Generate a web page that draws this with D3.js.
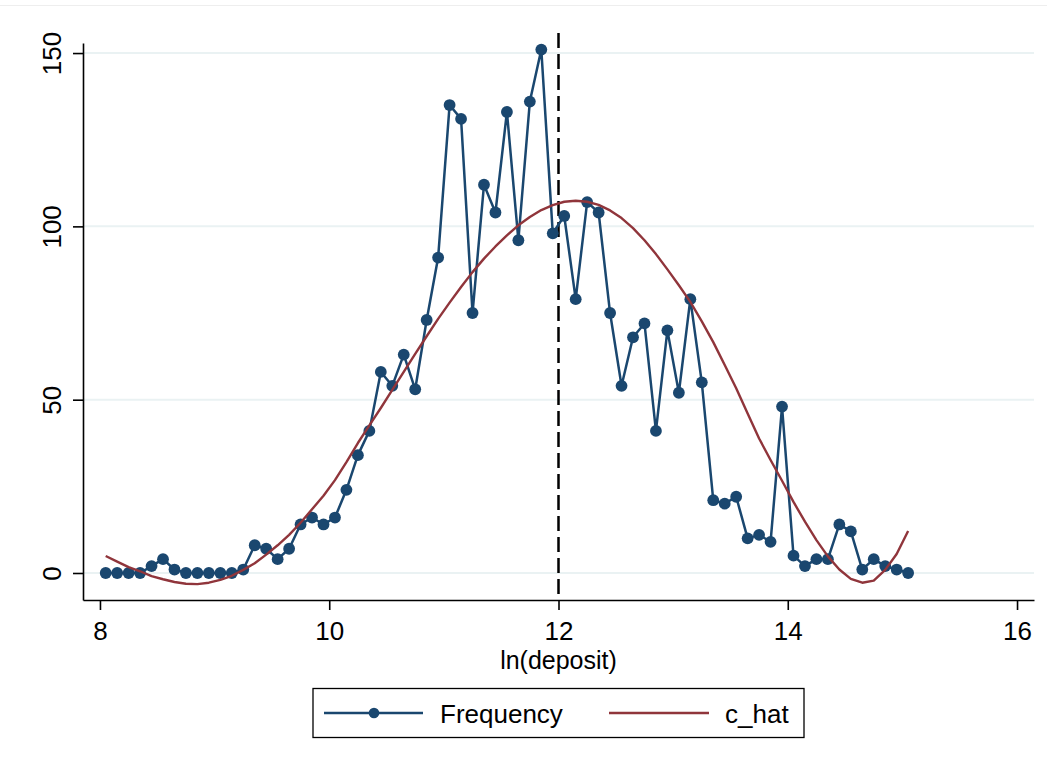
<!DOCTYPE html>
<html>
<head>
<meta charset="utf-8">
<script src="https://cdn.jsdelivr.net/npm/d3@7/dist/d3.min.js"></script>
<style>
  html, body { margin: 0; padding: 0; background: #fff; }
  svg { display: block; font-family: "Liberation Sans", Arial, Helvetica, sans-serif; }
</style>
</head>
<body>
<svg id="chart" width="1047" height="767"></svg>
<script>
// ln(deposit) bin midpoints
const lnDeposit = [
  8.05, 8.15, 8.25, 8.35, 8.45, 8.55, 8.65, 8.75, 8.85, 8.95,
  9.05, 9.15, 9.25, 9.35, 9.45, 9.55, 9.65, 9.75, 9.85, 9.95,
  10.05, 10.15, 10.25, 10.35, 10.45, 10.55, 10.65, 10.75, 10.85, 10.95,
  11.05, 11.15, 11.25, 11.35, 11.45, 11.55, 11.65, 11.75, 11.85, 11.95,
  12.05, 12.15, 12.25, 12.35, 12.45, 12.55, 12.65, 12.75, 12.85, 12.95,
  13.05, 13.15, 13.25, 13.35, 13.45, 13.55, 13.65, 13.75, 13.85, 13.95,
  14.05, 14.15, 14.25, 14.35, 14.45, 14.55, 14.65, 14.75, 14.85, 14.95,
  15.05
];

// Observed count per bin
const frequency = [
  0, 0, 0, 0, 2, 4, 1, 0, 0, 0,
  0, 0, 1, 8, 7, 4, 7, 14, 16, 14,
  16, 24, 34, 41, 58, 54, 63, 53, 73, 91,
  135, 131, 75, 112, 104, 133, 96, 136, 151, 98,
  103, 79, 107, 104, 75, 54, 68, 72, 41, 70,
  52, 79, 55, 21, 20, 22, 10, 11, 9, 48,
  5, 2, 4, 4, 14, 12, 1, 4, 2, 1,
  0
];

// Fitted density (c_hat) per bin
const cHat = [
  4.9, 3.3, 1.7, 0.5, -0.9, -1.8, -2.6, -3.1, -3.2, -2.8,
  -2.0, -0.8, 0.9, 2.8, 5.3, 8.0, 11.0, 14.5, 18.4, 22.3,
  26.8, 32.0, 37.5, 42.6, 47.6, 52.8, 58.0, 63.2, 68.3, 73.3,
  78.0, 82.5, 86.8, 90.7, 94.2, 97.4, 100.3, 102.7, 104.7, 106.1,
  107.1, 107.4, 107.1, 106.2, 104.6, 102.4, 99.5, 96.0, 92.0, 87.6,
  83.0, 78.2, 72.6, 66.6, 60.0, 53.3, 46.0, 38.8, 32.6, 26.6,
  20.5, 14.8, 9.5, 4.8, 1.0, -1.7, -2.8, -2.2, 0.9, 5.5,
  12.1
];

const xTicks = [8, 10, 12, 14, 16];
const yTicks = [0, 50, 100, 150];
const cutoff = [12];
const seriesNames = ["Frequency", "c_hat"];

const navy = "#1a476f";
const maroon = "#90353b";
const gridColor = "#eaf2f3";

const svg = d3.select("#chart");

const x = d3.scaleLinear().domain([7.852, 16.148]).range([83, 1034]);
const y = d3.scaleLinear().domain([-7.79, 152.9]).range([600, 43]);

// Faint outer rule along the top of the graph region
svg.append("line")
  .attr("x1", 0).attr("x2", 1047).attr("y1", 5.5).attr("y2", 5.5)
  .attr("stroke", "#eeeeee").attr("stroke-width", 1);

// Horizontal gridlines
svg.append("g")
  .selectAll("line")
  .data(yTicks)
  .join("line")
  .attr("x1", x.range()[0]).attr("x2", x.range()[1])
  .attr("y1", d => y(d)).attr("y2", d => y(d))
  .attr("stroke", gridColor).attr("stroke-width", 2);

// Y axis
const yAxis = svg.append("g")
  .attr("transform", `translate(${x.range()[0]},0)`)
  .call(d3.axisLeft(y).tickValues(yTicks).tickSize(10).tickSizeOuter(0).tickFormat(d3.format("d")));
yAxis.select(".domain").attr("stroke", "#000").attr("stroke-width", 1.6);
yAxis.selectAll(".tick line").attr("stroke", "#000").attr("stroke-width", 1.6);
yAxis.selectAll(".tick text")
  .attr("font-size", 26)
  .attr("fill", "#000")
  .attr("text-anchor", "middle")
  .attr("dy", 0)
  .attr("x", 0)
  .attr("y", 0)
  .attr("transform", "translate(-22,0) rotate(-90)");

// X axis
const xAxis = svg.append("g")
  .attr("transform", `translate(0,${y.range()[0]})`)
  .call(d3.axisBottom(x).tickValues(xTicks).tickSize(10).tickSizeOuter(0).tickPadding(12).tickFormat(d3.format("d")));
xAxis.select(".domain").attr("stroke", "#000").attr("stroke-width", 1.6);
xAxis.selectAll(".tick line").attr("stroke", "#000").attr("stroke-width", 1.6);
xAxis.selectAll(".tick text").attr("font-size", 26).attr("fill", "#000");

// Axis title
svg.append("text")
  .attr("x", (x.range()[0] + x.range()[1]) / 2)
  .attr("y", 669)
  .attr("text-anchor", "middle")
  .attr("font-size", 25)
  .attr("fill", "#000")
  .text("ln(deposit)");

// Cutoff reference line
svg.append("g")
  .selectAll("line")
  .data(cutoff)
  .join("line")
  .attr("x1", d => x(d)).attr("x2", d => x(d))
  .attr("y1", 33).attr("y2", y.range()[0])
  .attr("stroke", "#000").attr("stroke-width", 2.5)
  .attr("stroke-dasharray", "15,6");

const pts = lnDeposit.map((v, i) => ({ x: v, f: frequency[i], c: cHat[i] }));

// Frequency connected series
svg.append("path")
  .datum(pts)
  .attr("fill", "none")
  .attr("stroke", navy)
  .attr("stroke-width", 2.5)
  .attr("stroke-linejoin", "round")
  .attr("d", d3.line().x(d => x(d.x)).y(d => y(d.f)));

svg.append("g")
  .selectAll("circle")
  .data(pts)
  .join("circle")
  .attr("cx", d => x(d.x))
  .attr("cy", d => y(d.f))
  .attr("r", 5.9)
  .attr("fill", navy);

// Fitted curve
svg.append("path")
  .datum(pts)
  .attr("fill", "none")
  .attr("stroke", maroon)
  .attr("stroke-width", 2.4)
  .attr("stroke-linejoin", "round")
  .attr("d", d3.line().x(d => x(d.x)).y(d => y(d.c)));

// Legend
const legend = svg.append("g");
legend.append("rect")
  .attr("x", 313).attr("y", 688.5).attr("width", 491).attr("height", 49)
  .attr("fill", "#fff").attr("stroke", "#000").attr("stroke-width", 1.3);

legend.append("line")
  .attr("x1", 324).attr("x2", 423).attr("y1", 713).attr("y2", 713)
  .attr("stroke", navy).attr("stroke-width", 2.3);
legend.append("circle")
  .attr("cx", 374).attr("cy", 713).attr("r", 5.3).attr("fill", navy);
legend.append("text")
  .attr("x", 440).attr("y", 723)
  .attr("font-size", 26).attr("fill", "#000")
  .text(seriesNames[0]);

legend.append("line")
  .attr("x1", 609).attr("x2", 709).attr("y1", 713).attr("y2", 713)
  .attr("stroke", maroon).attr("stroke-width", 2.3);
legend.append("text")
  .attr("x", 725).attr("y", 723)
  .attr("font-size", 26).attr("fill", "#000")
  .text(seriesNames[1]);
</script>
</body>
</html>
